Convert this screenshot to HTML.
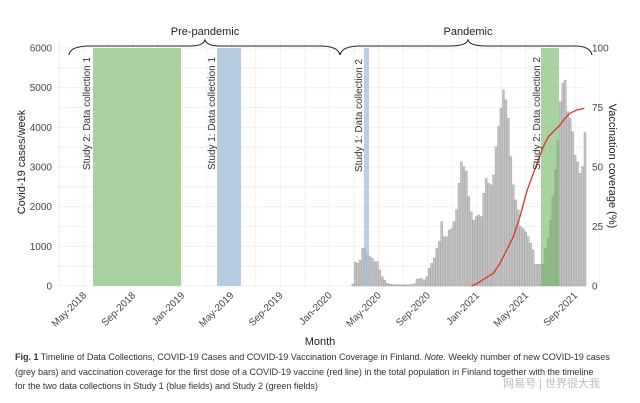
<!DOCTYPE html>
<html><head><meta charset="utf-8"><style>
body{margin:0;background:#fff;width:640px;height:403px;overflow:hidden;font-family:"Liberation Sans",sans-serif}
svg text{font-family:"Liberation Sans",sans-serif}
.cap{position:absolute;left:15px;top:350px;width:640px;font-size:9.1px;line-height:14.5px;color:#333;font-family:"Liberation Sans",sans-serif;white-space:nowrap;letter-spacing:-0.05px}
</style></head><body>
<svg id="s" width="640" height="403" style="position:absolute;left:0;top:0">
<g id="grid" stroke="#eeeeee" stroke-width="0.8"></g>
<rect x="93" y="48" width="88" height="238" fill="#a9d19f"/>
<rect x="217" y="48" width="24" height="238" fill="#b6cbe0"/>
<g id="bars"></g>
<rect x="364" y="48" width="5" height="238" fill="#a4bedb" opacity="0.75"/>
<rect x="541" y="48" width="18" height="238" fill="#6fb562" opacity="0.6"/>
<polyline id="vac" fill="none" stroke="#d9352a" stroke-width="1.3"/>
<g font-size="10.5" fill="#333">
<text transform="translate(90,170) rotate(-90)" textLength="113" lengthAdjust="spacingAndGlyphs">Study 2: Data collection 1</text>
<text transform="translate(215,170) rotate(-90)" textLength="113" lengthAdjust="spacingAndGlyphs">Study 1: Data collection 1</text>
<text transform="translate(362,172) rotate(-90)" textLength="113" lengthAdjust="spacingAndGlyphs">Study 1:  Data collection 2</text>
<text transform="translate(540,170) rotate(-90)" textLength="113" lengthAdjust="spacingAndGlyphs">Study 2: Data collection 2</text>
</g>
<g font-size="10" fill="#444" text-anchor="end" id="yl"></g>
<g font-size="10" fill="#444" id="yr"></g>
<text transform="translate(25,162) rotate(-90)" font-size="11" fill="#222" text-anchor="middle">Covid-19 cases/week</text>
<text transform="translate(609,166) rotate(90)" font-size="11" fill="#222" text-anchor="middle">Vaccination coverage (%)</text>
<g font-size="10" fill="#444" text-anchor="end" id="xl"></g>
<text x="320" y="345" font-size="11" fill="#222" text-anchor="middle">Month</text>
<g fill="none" stroke="#222" stroke-width="1.1">
<path d="M69,55 Q70,46 90,46 L190,46 Q203,46 205,40 Q207,46 220,46 L320,46 Q338,46 340,55"/>
<path d="M340,55 Q342,46 360,46 L450,46 Q466,46 468,40 Q470,46 486,46 L575,46 Q590,46 592,55"/>
</g>
<text x="205" y="35" font-size="11" fill="#222" text-anchor="middle">Pre-pandemic</text>
<text x="468" y="35" font-size="11" fill="#222" text-anchor="middle">Pandemic</text>
<text x="503" y="387" font-size="11" fill="#bbb" font-family="Liberation Sans,Noto Sans CJK SC,sans-serif">网易号 | 世界很大我</text>
</svg>
<div class="cap"><b>Fig. 1</b> Timeline of Data Collections, COVID-19 Cases and COVID-19 Vaccination Coverage in Finland. <i>Note.</i> Weekly number of new COVID-19 cases<br>(grey bars) and vaccination coverage for the first dose of a COVID-19 vaccine (red line) in the total population in Finland together with the timeline<br>for the two data collections in Study 1 (blue fields) and Study 2 (green fields)</div>
<script>
const NS="http://www.w3.org/2000/svg";
function el(p,t,a,txt){const e=document.createElementNS(NS,t);for(const k in a)e.setAttribute(k,a[k]);if(txt!==undefined)e.textContent=String(txt);document.getElementById(p).appendChild(e);return e;}
const Y=c=>286-c*238/6000;
for(let c=0;c<=6000;c+=500){el("grid","line",{x1:57,x2:586,y1:Y(c),y2:Y(c)});}
const months=["May-2018","Sep-2018","Jan-2019","May-2019","Sep-2019","Jan-2020","May-2020","Sep-2020","Jan-2021","May-2021","Sep-2021"];
for(let i=0;i<months.length;i++){const x=84+i*49.1;el("grid","line",{x1:x,x2:x,y1:40,y2:286});el("grid","line",{x1:x+24.5,x2:x+24.5,y1:40,y2:286});
el("xl","text",{transform:`translate(${x+3},${296}) rotate(-45)`},months[i]);}
el("grid","line",{x1:59.5,x2:59.5,y1:40,y2:286});
for(let c=0;c<=6000;c+=1000)el("yl","text",{x:52,y:Y(c)+3.5},c);
for(let v=0;v<=100;v+=25)el("yr","text",{x:592,y:286-v*2.38+3.5},v);
const d=[50,600,570,650,950,950,820,740,700,610,610,400,235,150,70,50,40,30,30,30,30,30,30,30,40,60,170,185,185,150,235,445,570,700,950,1120,1620,1240,1240,1410,1450,1620,1920,2590,3130,3010,2900,2250,1870,1660,1750,1790,1750,2340,2710,2590,2550,2800,3510,4020,4480,4940,4690,4230,3260,2550,2170,1920,1500,1450,1370,1240,1080,910,550,550,550,550,950,1200,1660,2250,2920,3680,4650,5110,5190,4390,4230,3890,3300,3130,2840,3010,3870];
const x0=352.7,w=(585-352.7)/(d.length-1);
d.forEach((c,i)=>{const x=x0+i*w;el("bars","rect",{x:x-1,y:Y(c),width:2,height:286-Y(c),fill:"#c4c4c4",stroke:"#9a9a9a","stroke-width":0.4});});
const v=[[425,738],[445,728],[470,712],[490,700],[510,670],[530,630],[550,590],[570,530],[590,455],[610,400],[625,360],[640,320],[655,290],[675,270],[690,255],[705,235],[720,220],[740,210],[763,205]];
document.getElementById("vac").setAttribute("points",v.map(p=>`${330+p[0]/3},${40+p[1]/3}`).join(" "));
</script>
</body></html>
